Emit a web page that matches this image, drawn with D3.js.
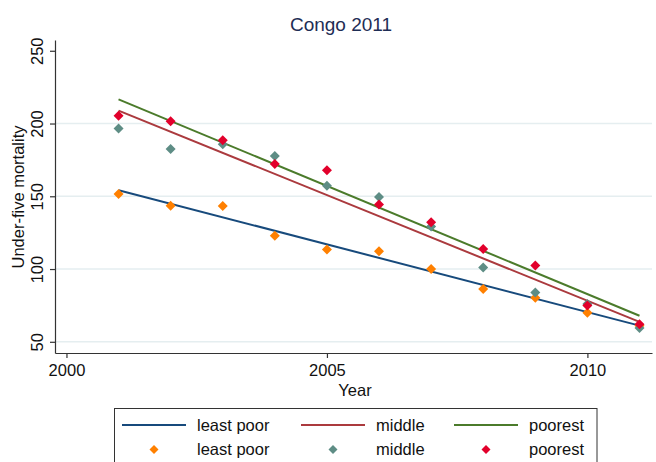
<!DOCTYPE html>
<html>
<head>
<meta charset="utf-8">
<script src="https://cdn.jsdelivr.net/npm/d3@7"></script>
<style>
  html, body { margin: 0; padding: 0; background: #fff; }
  svg { display: block; font-family: "Liberation Sans", Arial, Helvetica, sans-serif; }
</style>
</head>
<body>
<svg id="chart" width="656" height="462"></svg>
<script>
// Under-five mortality by wealth group, Congo
const years = [2001, 2002, 2003, 2004, 2005, 2006, 2007, 2008, 2009, 2010, 2011];
const leastPoor = [151.6, 143.5, 143.3, 122.9, 113.5, 112.2, 100.0, 86.2, 80.2, 69.9, 61.0];
const middle    = [196.5, 182.5, 185.8, 177.7, 157.3, 149.5, 129.3, 101.1, 83.8, 76.0, 59.5];
const poorest   = [205.4, 201.6, 188.5, 172.2, 167.9, 144.4, 132.1, 113.8, 102.5, 75.0, 62.0];

// Linear-fit lines: value at first and last year
const fitYears = [2001, 2011];
const fitLeastPoor = [154.2, 61.1];
const fitMiddle    = [208.9, 63.7];
const fitPoorest   = [216.6, 67.9];

const groupNames = ["least poor", "middle", "poorest"];
const yTicks = [50, 100, 150, 200, 250];
const xTicks = [2000, 2005, 2010];
const gridValues = [50, 100, 150, 200];

const lineColors = ["#174a7c", "#ab3a3e", "#4b7b2b"];
const markerColors = ["#ff8000", "#5e8d85", "#e2002b"];

const svg = d3.select("#chart");

const x = d3.scaleLinear().domain([1999.78, 2011.24]).range([55, 652]);
const y = d3.scaleLinear().domain([42.3, 257.4]).range([353, 40]);

// gridlines
svg.append("g").selectAll("line").data(gridValues).join("line")
  .attr("x1", x.range()[0]).attr("x2", x.range()[1])
  .attr("y1", d => y(d)).attr("y2", d => y(d))
  .attr("stroke", "#e5eef0").attr("stroke-width", 1.5);

// axes
const yAxis = d3.axisLeft(y).tickValues(yTicks).tickSize(5).tickPadding(4).tickSizeOuter(0);
const gy = svg.append("g").attr("transform", "translate(55,0)").call(yAxis);
gy.select(".domain").attr("stroke", "#333").attr("stroke-width", 1.2);
gy.selectAll(".tick line").attr("stroke", "#333").attr("stroke-width", 1.2);
gy.selectAll(".tick text")
  .attr("font-size", 16.5).attr("fill", "#111")
  .attr("text-anchor", "middle")
  .attr("x", 0).attr("dy", 0)
  .attr("transform", "translate(-12,0) rotate(-90)");

const xAxis = d3.axisBottom(x).tickValues(xTicks).tickFormat(d3.format("d")).tickSize(5).tickSizeOuter(0);
const gx = svg.append("g").attr("transform", "translate(0,353)").call(xAxis);
gx.select(".domain").attr("stroke", "#333").attr("stroke-width", 1.2);
gx.selectAll(".tick line").attr("stroke", "#333").attr("stroke-width", 1.2);
gx.selectAll(".tick text").attr("font-size", 16.5).attr("fill", "#111")
  .attr("y", 22.5).attr("dy", 0);

// axis titles
svg.append("text").attr("x", 355).attr("y", 396)
  .attr("text-anchor", "middle").attr("font-size", 16.5).attr("fill", "#111")
  .text("Year");
svg.append("text")
  .attr("transform", "translate(24,197) rotate(-90)")
  .attr("text-anchor", "middle").attr("font-size", 16.5).attr("fill", "#111")
  .text("Under-five mortality");

// title
svg.append("text").attr("x", 341).attr("y", 31)
  .attr("text-anchor", "middle").attr("font-size", 19).attr("fill", "#1e2d55")
  .text("Congo 2011");

// fitted lines
const fits = [fitLeastPoor, fitMiddle, fitPoorest];
const line = d3.line().x(d => x(d[0])).y(d => y(d[1]));
fits.forEach((f, i) => {
  svg.append("path")
    .datum(fitYears.map((yr, j) => [yr, f[j]]))
    .attr("d", line)
    .attr("fill", "none")
    .attr("stroke", lineColors[i])
    .attr("stroke-width", 2);
});

// scatter markers (diamonds)
const diamond = d3.symbol().type(d3.symbolSquare).size(50);
const legendDiamond = d3.symbol().type(d3.symbolSquare).size(40);
const series = [leastPoor, middle, poorest];
series.forEach((vals, i) => {
  svg.append("g").selectAll("path").data(years.map((yr, j) => [yr, vals[j]])).join("path")
    .attr("d", diamond)
    .attr("transform", d => `translate(${x(d[0])},${y(d[1])}) rotate(45)`)
    .attr("fill", markerColors[i]);
});

// legend
const lg = svg.append("g");
lg.append("rect").attr("x", 114.5).attr("y", 408.5).attr("width", 482.5).attr("height", 70)
  .attr("fill", "#fff").attr("stroke", "#333").attr("stroke-width", 1);
const colX = [122, 301, 454];
const labelX = [197, 376, 529];
groupNames.forEach((name, i) => {
  lg.append("line")
    .attr("x1", colX[i]).attr("x2", colX[i] + 64)
    .attr("y1", 425).attr("y2", 425)
    .attr("stroke", lineColors[i]).attr("stroke-width", 2);
  lg.append("text").attr("x", labelX[i]).attr("y", 430.5)
    .attr("font-size", 16.5).attr("fill", "#111").text(name);
  lg.append("path").attr("d", legendDiamond)
    .attr("transform", `translate(${colX[i] + 32},449.5) rotate(45)`)
    .attr("fill", markerColors[i]);
  lg.append("text").attr("x", labelX[i]).attr("y", 455)
    .attr("font-size", 16.5).attr("fill", "#111").text(name);
});
</script>
</body>
</html>
